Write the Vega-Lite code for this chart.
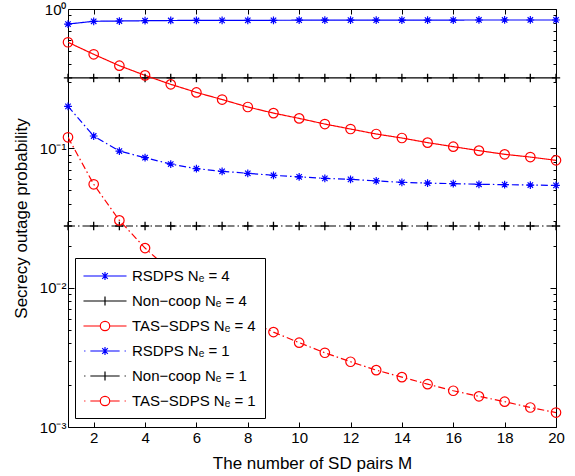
{
  "$schema": "https://vega.github.io/schema/vega-lite/v6.json",
  "width": 488,
  "height": 418,
  "autosize": {"type": "none"},
  "padding": {"left": 68, "top": 9, "right": 19, "bottom": 49},
  "background": "white",
  "config": {
    "view": {"stroke": "#000000", "strokeWidth": 1},
    "axis": {
      "grid": false, "domain": false, "tickColor": "#000000", "tickWidth": 1,
      "labelColor": "#000000", "labelFont": "Liberation Sans", "labelFontSize": 15,
      "titleFont": "Liberation Sans", "titleFontSize": 17, "titleFontWeight": "normal", "titleColor": "#000000"
    }
  },
  "data": {"values": [
    {"series": "RSDPS Nₑ = 4", "M": 1, "p": 0.78}, {"series": "RSDPS Nₑ = 4", "M": 2, "p": 0.816}, {"series": "RSDPS Nₑ = 4", "M": 3, "p": 0.82}, {"series": "RSDPS Nₑ = 4", "M": 4, "p": 0.824}, {"series": "RSDPS Nₑ = 4", "M": 5, "p": 0.827}, {"series": "RSDPS Nₑ = 4", "M": 6, "p": 0.828}, {"series": "RSDPS Nₑ = 4", "M": 7, "p": 0.829}, {"series": "RSDPS Nₑ = 4", "M": 8, "p": 0.83}, {"series": "RSDPS Nₑ = 4", "M": 9, "p": 0.83}, {"series": "RSDPS Nₑ = 4", "M": 10, "p": 0.831}, {"series": "RSDPS Nₑ = 4", "M": 11, "p": 0.831}, {"series": "RSDPS Nₑ = 4", "M": 12, "p": 0.832}, {"series": "RSDPS Nₑ = 4", "M": 13, "p": 0.832}, {"series": "RSDPS Nₑ = 4", "M": 14, "p": 0.833}, {"series": "RSDPS Nₑ = 4", "M": 15, "p": 0.833}, {"series": "RSDPS Nₑ = 4", "M": 16, "p": 0.833}, {"series": "RSDPS Nₑ = 4", "M": 17, "p": 0.834}, {"series": "RSDPS Nₑ = 4", "M": 18, "p": 0.834}, {"series": "RSDPS Nₑ = 4", "M": 19, "p": 0.834}, {"series": "RSDPS Nₑ = 4", "M": 20, "p": 0.834},
    {"series": "Non−coop Nₑ = 4", "M": 1, "p": 0.32}, {"series": "Non−coop Nₑ = 4", "M": 2, "p": 0.32}, {"series": "Non−coop Nₑ = 4", "M": 3, "p": 0.32}, {"series": "Non−coop Nₑ = 4", "M": 4, "p": 0.32}, {"series": "Non−coop Nₑ = 4", "M": 5, "p": 0.32}, {"series": "Non−coop Nₑ = 4", "M": 6, "p": 0.32}, {"series": "Non−coop Nₑ = 4", "M": 7, "p": 0.32}, {"series": "Non−coop Nₑ = 4", "M": 8, "p": 0.32}, {"series": "Non−coop Nₑ = 4", "M": 9, "p": 0.32}, {"series": "Non−coop Nₑ = 4", "M": 10, "p": 0.32}, {"series": "Non−coop Nₑ = 4", "M": 11, "p": 0.32}, {"series": "Non−coop Nₑ = 4", "M": 12, "p": 0.32}, {"series": "Non−coop Nₑ = 4", "M": 13, "p": 0.32}, {"series": "Non−coop Nₑ = 4", "M": 14, "p": 0.32}, {"series": "Non−coop Nₑ = 4", "M": 15, "p": 0.32}, {"series": "Non−coop Nₑ = 4", "M": 16, "p": 0.32}, {"series": "Non−coop Nₑ = 4", "M": 17, "p": 0.32}, {"series": "Non−coop Nₑ = 4", "M": 18, "p": 0.32}, {"series": "Non−coop Nₑ = 4", "M": 19, "p": 0.32}, {"series": "Non−coop Nₑ = 4", "M": 20, "p": 0.32},
    {"series": "TAS−SDPS Nₑ = 4", "M": 1, "p": 0.577}, {"series": "TAS−SDPS Nₑ = 4", "M": 2, "p": 0.473}, {"series": "TAS−SDPS Nₑ = 4", "M": 3, "p": 0.392}, {"series": "TAS−SDPS Nₑ = 4", "M": 4, "p": 0.334}, {"series": "TAS−SDPS Nₑ = 4", "M": 5, "p": 0.288}, {"series": "TAS−SDPS Nₑ = 4", "M": 6, "p": 0.252}, {"series": "TAS−SDPS Nₑ = 4", "M": 7, "p": 0.224}, {"series": "TAS−SDPS Nₑ = 4", "M": 8, "p": 0.198}, {"series": "TAS−SDPS Nₑ = 4", "M": 9, "p": 0.179}, {"series": "TAS−SDPS Nₑ = 4", "M": 10, "p": 0.164}, {"series": "TAS−SDPS Nₑ = 4", "M": 11, "p": 0.1494}, {"series": "TAS−SDPS Nₑ = 4", "M": 12, "p": 0.1376}, {"series": "TAS−SDPS Nₑ = 4", "M": 13, "p": 0.1267}, {"series": "TAS−SDPS Nₑ = 4", "M": 14, "p": 0.1186}, {"series": "TAS−SDPS Nₑ = 4", "M": 15, "p": 0.1099}, {"series": "TAS−SDPS Nₑ = 4", "M": 16, "p": 0.1028}, {"series": "TAS−SDPS Nₑ = 4", "M": 17, "p": 0.0963}, {"series": "TAS−SDPS Nₑ = 4", "M": 18, "p": 0.0906}, {"series": "TAS−SDPS Nₑ = 4", "M": 19, "p": 0.0866}, {"series": "TAS−SDPS Nₑ = 4", "M": 20, "p": 0.082},
    {"series": "RSDPS Nₑ = 1", "M": 1, "p": 0.2}, {"series": "RSDPS Nₑ = 1", "M": 2, "p": 0.1226}, {"series": "RSDPS Nₑ = 1", "M": 3, "p": 0.0956}, {"series": "RSDPS Nₑ = 1", "M": 4, "p": 0.0857}, {"series": "RSDPS Nₑ = 1", "M": 5, "p": 0.0771}, {"series": "RSDPS Nₑ = 1", "M": 6, "p": 0.0715}, {"series": "RSDPS Nₑ = 1", "M": 7, "p": 0.0684}, {"series": "RSDPS Nₑ = 1", "M": 8, "p": 0.0662}, {"series": "RSDPS Nₑ = 1", "M": 9, "p": 0.064}, {"series": "RSDPS Nₑ = 1", "M": 10, "p": 0.0624}, {"series": "RSDPS Nₑ = 1", "M": 11, "p": 0.0609}, {"series": "RSDPS Nₑ = 1", "M": 12, "p": 0.0599}, {"series": "RSDPS Nₑ = 1", "M": 13, "p": 0.0584}, {"series": "RSDPS Nₑ = 1", "M": 14, "p": 0.057}, {"series": "RSDPS Nₑ = 1", "M": 15, "p": 0.0563}, {"series": "RSDPS Nₑ = 1", "M": 16, "p": 0.0558}, {"series": "RSDPS Nₑ = 1", "M": 17, "p": 0.0552}, {"series": "RSDPS Nₑ = 1", "M": 18, "p": 0.0549}, {"series": "RSDPS Nₑ = 1", "M": 19, "p": 0.0545}, {"series": "RSDPS Nₑ = 1", "M": 20, "p": 0.0542},
    {"series": "Non−coop Nₑ = 1", "M": 1, "p": 0.0277}, {"series": "Non−coop Nₑ = 1", "M": 2, "p": 0.0277}, {"series": "Non−coop Nₑ = 1", "M": 3, "p": 0.0277}, {"series": "Non−coop Nₑ = 1", "M": 4, "p": 0.0277}, {"series": "Non−coop Nₑ = 1", "M": 5, "p": 0.0277}, {"series": "Non−coop Nₑ = 1", "M": 6, "p": 0.0277}, {"series": "Non−coop Nₑ = 1", "M": 7, "p": 0.0277}, {"series": "Non−coop Nₑ = 1", "M": 8, "p": 0.0277}, {"series": "Non−coop Nₑ = 1", "M": 9, "p": 0.0277}, {"series": "Non−coop Nₑ = 1", "M": 10, "p": 0.0277}, {"series": "Non−coop Nₑ = 1", "M": 11, "p": 0.0277}, {"series": "Non−coop Nₑ = 1", "M": 12, "p": 0.0277}, {"series": "Non−coop Nₑ = 1", "M": 13, "p": 0.0277}, {"series": "Non−coop Nₑ = 1", "M": 14, "p": 0.0277}, {"series": "Non−coop Nₑ = 1", "M": 15, "p": 0.0277}, {"series": "Non−coop Nₑ = 1", "M": 16, "p": 0.0277}, {"series": "Non−coop Nₑ = 1", "M": 17, "p": 0.0277}, {"series": "Non−coop Nₑ = 1", "M": 18, "p": 0.0277}, {"series": "Non−coop Nₑ = 1", "M": 19, "p": 0.0277}, {"series": "Non−coop Nₑ = 1", "M": 20, "p": 0.0277},
    {"series": "TAS−SDPS Nₑ = 1", "M": 1, "p": 0.12}, {"series": "TAS−SDPS Nₑ = 1", "M": 2, "p": 0.0552}, {"series": "TAS−SDPS Nₑ = 1", "M": 3, "p": 0.0304}, {"series": "TAS−SDPS Nₑ = 1", "M": 4, "p": 0.01924}, {"series": "TAS−SDPS Nₑ = 1", "M": 5, "p": 0.0131}, {"series": "TAS−SDPS Nₑ = 1", "M": 6, "p": 0.0094}, {"series": "TAS−SDPS Nₑ = 1", "M": 7, "p": 0.00722}, {"series": "TAS−SDPS Nₑ = 1", "M": 8, "p": 0.00582}, {"series": "TAS−SDPS Nₑ = 1", "M": 9, "p": 0.0048}, {"series": "TAS−SDPS Nₑ = 1", "M": 10, "p": 0.00403}, {"series": "TAS−SDPS Nₑ = 1", "M": 11, "p": 0.00341}, {"series": "TAS−SDPS Nₑ = 1", "M": 12, "p": 0.00294}, {"series": "TAS−SDPS Nₑ = 1", "M": 13, "p": 0.00256}, {"series": "TAS−SDPS Nₑ = 1", "M": 14, "p": 0.00228}, {"series": "TAS−SDPS Nₑ = 1", "M": 15, "p": 0.00203}, {"series": "TAS−SDPS Nₑ = 1", "M": 16, "p": 0.00182}, {"series": "TAS−SDPS Nₑ = 1", "M": 17, "p": 0.00166}, {"series": "TAS−SDPS Nₑ = 1", "M": 18, "p": 0.00152}, {"series": "TAS−SDPS Nₑ = 1", "M": 19, "p": 0.00138}, {"series": "TAS−SDPS Nₑ = 1", "M": 20, "p": 0.00127}
  ]},
  "encoding": {
    "x": {"field": "M", "type": "quantitative", "scale": {"domain": [1, 20], "nice": false, "zero": false}, "axis": null},
    "y": {"field": "p", "type": "quantitative", "scale": {"type": "log", "domain": [0.001, 1], "nice": false}, "axis": null},
    "color": {"field": "series", "type": "nominal", "scale": {"domain": ["RSDPS Nₑ = 4", "Non−coop Nₑ = 4", "TAS−SDPS Nₑ = 4", "RSDPS Nₑ = 1", "Non−coop Nₑ = 1", "TAS−SDPS Nₑ = 1"], "range": ["#0000ff", "#000000", "#ff0000", "#0000ff", "#000000", "#ff0000"]}, "legend": null}
  },
  "layer": [
    {
      "transform": [{"filter": "datum.M < 0"}],
      "mark": {"type": "point", "filled": false, "strokeWidth": 1.2, "opacity": 1},
      "encoding": {
        "color": {"field": "series", "type": "nominal", "legend": {"title": null, "orient": "none", "legendX": 7, "legendY": 249, "strokeColor": "#000000", "fillColor": "#ffffff", "padding": 9, "symbolSize": 256, "symbolOffset": 12, "symbolStrokeWidth": 1.2, "symbolOpacity": 1, "labelFont": "Liberation Sans", "labelFontSize": 15, "labelColor": "#000000", "labelOffset": 18, "rowPadding": 8, "labelLimit": 0}},
        "shape": {"field": "series", "type": "nominal", "scale": {"domain": ["RSDPS Nₑ = 4", "Non−coop Nₑ = 4", "TAS−SDPS Nₑ = 4", "RSDPS Nₑ = 1", "Non−coop Nₑ = 1", "TAS−SDPS Nₑ = 1"], "range": [
          "M-2.69,0L2.69,0M0,-0.5L0,0.5M-0.5,0L0.5,0M-0.35,-0.35L0.35,0.35M-0.35,0.35L0.35,-0.35",
          "M-2.69,0L2.69,0M0,-0.56L0,0.56",
          "M-2.69,0L-0.59,0M0.59,0L2.69,0M0.59,0A0.59,0.59,0,1,1,-0.59,0A0.59,0.59,0,1,1,0.59,0",
          "M-2.6,0L-2.45,0M-1.83,0L1.83,0M2.45,0L2.6,0M0,-0.5L0,0.5M-0.5,0L0.5,0M-0.35,-0.35L0.35,0.35M-0.35,0.35L0.35,-0.35",
          "M-2.6,0L-2.45,0M-1.83,0L1.83,0M2.45,0L2.6,0M0,-0.56L0,0.56",
          "M-2.6,0L-2.45,0M-1.83,0L-0.59,0M0.59,0L1.83,0M2.45,0L2.6,0M0.59,0A0.59,0.59,0,1,1,-0.59,0A0.59,0.59,0,1,1,0.59,0"
        ]}, "legend": {"title": null, "orient": "none", "legendX": 7, "legendY": 249, "strokeColor": "#000000", "fillColor": "#ffffff", "padding": 9, "symbolSize": 256, "symbolOffset": 12, "symbolStrokeWidth": 1.2, "symbolOpacity": 1, "labelFont": "Liberation Sans", "labelFontSize": 15, "labelColor": "#000000", "labelOffset": 18, "rowPadding": 8, "labelLimit": 0}}
      }
    },
    {
      "mark": {"type": "line", "strokeWidth": 1.2, "clip": true},
      "encoding": {
        "x": {"field": "M", "type": "quantitative", "axis": {"orient": "bottom", "values": [2, 4, 6, 8, 10, 12, 14, 16, 18, 20], "tickSize": -5, "labelPadding": 8, "labelFlush": false, "labelOverlap": false, "title": "The number of SD pairs M", "titlePadding": 10}},
        "y": {"field": "p", "type": "quantitative", "axis": {"orient": "left", "values": [0.001, 0.002, 0.003, 0.004, 0.005, 0.006, 0.007, 0.008, 0.009, 0.01, 0.02, 0.03, 0.04, 0.05, 0.06, 0.07, 0.08, 0.09, 0.1, 0.2, 0.3, 0.4, 0.5, 0.6, 0.7, 0.8, 0.9, 1], "labelExpr": "datum.value == 1 ? '10⁰' : datum.value == 0.1 ? '10⁻¹' : datum.value == 0.01 ? '10⁻²' : datum.value == 0.001 ? '10⁻³' : ''", "labelOverlap": false, "labelFlush": false, "tickSize": {"condition": {"test": "datum.value == 1 || datum.value == 0.1 || datum.value == 0.01 || datum.value == 0.001", "value": -6}, "value": -3}, "labelPadding": 8, "title": "Secrecy outage probability", "titlePadding": 9}},
        "strokeDash": {"field": "series", "type": "nominal", "scale": {"domain": ["RSDPS Nₑ = 1", "Non−coop Nₑ = 1", "TAS−SDPS Nₑ = 1", "RSDPS Nₑ = 4", "Non−coop Nₑ = 4", "TAS−SDPS Nₑ = 4"], "range": [[7, 3, 1.5, 3], [7, 3, 1.5, 3], [7, 3, 1.5, 3], [1, 0], [1, 0], [1, 0]]}, "legend": null}
      }
    },
    {
      "transform": [{"filter": {"field": "series", "oneOf": ["RSDPS Nₑ = 4", "RSDPS Nₑ = 1"]}}],
      "mark": {"type": "point", "shape": "M0,-1L0,1M-1,0L1,0M-0.7,-0.7L0.7,0.7M-0.7,0.7L0.7,-0.7", "size": 60, "filled": false, "strokeWidth": 1.2, "opacity": 1},
      "encoding": {
        "x": {"field": "M", "type": "quantitative", "axis": {"orient": "top", "values": [2, 4, 6, 8, 10, 12, 14, 16, 18, 20], "tickSize": -5, "labels": false, "title": null}},
        "y": {"field": "p", "type": "quantitative", "axis": {"orient": "right", "values": [0.001, 0.002, 0.003, 0.004, 0.005, 0.006, 0.007, 0.008, 0.009, 0.01, 0.02, 0.03, 0.04, 0.05, 0.06, 0.07, 0.08, 0.09, 0.1, 0.2, 0.3, 0.4, 0.5, 0.6, 0.7, 0.8, 0.9, 1], "labels": false, "title": null, "tickSize": {"condition": {"test": "datum.value == 1 || datum.value == 0.1 || datum.value == 0.01 || datum.value == 0.001", "value": -6}, "value": -3}}}
      }
    },
    {
      "transform": [{"filter": {"field": "series", "oneOf": ["Non−coop Nₑ = 4", "Non−coop Nₑ = 1"]}}],
      "mark": {"type": "point", "shape": "M0,-1L0,1M-1,0L1,0", "size": 70, "filled": false, "strokeWidth": 1.3, "opacity": 1}
    },
    {
      "transform": [{"filter": {"field": "series", "oneOf": ["TAS−SDPS Nₑ = 4", "TAS−SDPS Nₑ = 1"]}}],
      "mark": {"type": "point", "shape": "circle", "size": 90, "filled": false, "strokeWidth": 1.2, "opacity": 1}
    }
  ]
}
